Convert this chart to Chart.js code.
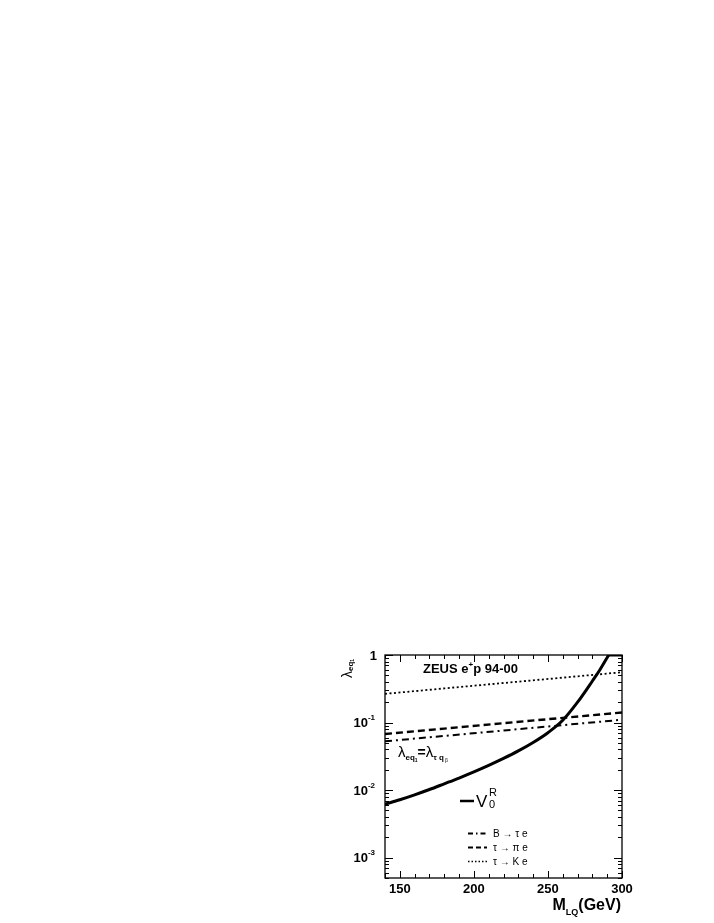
<!DOCTYPE html>
<html><head><meta charset="utf-8">
<script src="https://cdn.jsdelivr.net/npm/chart.js@4/dist/chart.umd.min.js"></script>
<style>html,body{margin:0;padding:0;background:#fff}canvas{display:block}</style>
</head><body><canvas id="c" width="714" height="923"></canvas>
<script>
// ---- data ----
const massV0R   = [140,150,160,170,180,190,200,210,220,230,240,250,260,270,280,285,291];
const lambdaV0R = [0.00617,0.00720,0.00852,0.0102,0.0124,0.0151,0.0186,0.0232,0.0294,0.0380,0.0507,0.0708,0.108,0.200,0.412,0.60,1.0];
// part of the V0R limit that runs along the upper frame (clipped at lambda = 1)
const massV0RClipped   = [291,300];
const lambdaV0RClipped = [1.0,1.0];
const massLimits   = [140,180,220,260,300];
const lambdaBtauE  = [0.0527,0.0634,0.0762,0.0916,0.110];
const lambdaTauPiE = [0.0676,0.0813,0.0977,0.1174,0.141];
const lambdaTauKE  = [0.266,0.320,0.385,0.462,0.556];
const xTickValues = [150,200,250,300];
const yDecades = [-3,-2,-1,0];
const legendLabels = ['B \u2192 \u03c4 e','\u03c4 \u2192 \u03c0 e','\u03c4 \u2192 K e'];

const pts = (xs, ys) => xs.map((x,i)=>({x, y: ys[i]}));
const SANS = '"Liberation Sans", Arial, Helvetica, sans-serif';

function rich(ctx, parts, x, y, align){
  let w = 0;
  parts.forEach(p=>{ ctx.font = p.f; p.w = ctx.measureText(p.t).width; w += p.w + (p.gap||0); });
  let cx = align==='right' ? x - w : (align==='center' ? x - w/2 : x);
  parts.forEach(p=>{ ctx.font = p.f; ctx.fillText(p.t, cx, y + (p.dy||0)); cx += p.w + (p.gap||0); });
  return w;
}

const decor = {
  id:'decor',
  afterDraw(chart){
    const ctx = chart.ctx, a = chart.chartArea, xs = chart.scales.x, ys = chart.scales.y;
    ctx.save();
    ctx.fillStyle = '#000'; ctx.strokeStyle = '#000';
    ctx.textBaseline = 'alphabetic'; ctx.textAlign = 'left';
    // frame
    ctx.lineWidth = 1.3;
    ctx.strokeRect(a.left, a.top, a.right-a.left, a.bottom-a.top);
    // y ticks
    ctx.lineWidth = 1;
    ctx.beginPath();
    for (let d=-4; d<=0; d++){
      for (let m=1; m<=9; m++){
        const v = m*Math.pow(10,d);
        if (v < ys.min*0.999 || v > ys.max*1.001) continue;
        const py = Math.round(ys.getPixelForValue(v))+0.5;
        const len = m===1 ? 8 : 4;
        ctx.moveTo(a.left, py); ctx.lineTo(a.left+len, py);
        ctx.moveTo(a.right, py); ctx.lineTo(a.right-len, py);
      }
    }
    // x ticks
    for (let v=140; v<=300; v+=10){
      const px = Math.round(xs.getPixelForValue(v))+0.5;
      const len = v%50===0 ? 7 : 4;
      ctx.moveTo(px, a.bottom); ctx.lineTo(px, a.bottom-len);
      ctx.moveTo(px, a.top); ctx.lineTo(px, a.top+len);
    }
    ctx.stroke();
    // y tick labels
    yDecades.forEach(d=>{
      const py = ys.getPixelForValue(Math.pow(10,d)) + 4.5;
      if (d===0) rich(ctx,[{t:'1',f:'bold 13px '+SANS}], a.left-8, py, 'right');
      else rich(ctx,[{t:'10',f:'bold 13px '+SANS},{t:String(d),f:'bold 8px '+SANS,dy:-7}], a.left-10, py, 'right');
    });
    // x axis title
    rich(ctx,[{t:'M',f:'bold 16px '+SANS},{t:'LQ',f:'bold 9px '+SANS,dy:5},{t:'(GeV)',f:'bold 16px '+SANS}], a.right-1, 910, 'right');
    // y axis title (rotated)
    ctx.save();
    ctx.translate(351.5, 678); ctx.rotate(-Math.PI/2);
    rich(ctx,[{t:'\u03bb',f:'14px '+SANS},{t:'eq',f:'bold 8px '+SANS,dy:1},{t:'1',f:'bold 5px '+SANS,dy:2}], 0, 0, 'left');
    ctx.restore();
    // ZEUS label
    rich(ctx,[{t:'ZEUS e',f:'bold 13px '+SANS},{t:'+',f:'bold 8px '+SANS,dy:-6},{t:'p 94-00',f:'bold 13px '+SANS}], 423, 673, 'left');
    // coupling label
    rich(ctx,[{t:'\u03bb',f:'15px '+SANS},{t:'eq',f:'bold 8px '+SANS,dy:3},{t:'1',f:'bold 5px '+SANS,dy:5},
              {t:'=',f:'bold 14px '+SANS},{t:'\u03bb',f:'15px '+SANS},{t:'\u03c4 q',f:'bold 8px '+SANS,dy:3,gap:1},{t:'\u03b2',f:'5px '+SANS,dy:5}], 398, 757, 'left');
    // V0R label
    ctx.lineWidth = 2.5;
    ctx.beginPath(); ctx.moveTo(460, 801); ctx.lineTo(474, 801); ctx.stroke();
    ctx.font = '17px '+SANS; ctx.fillText('V', 476, 807);
    ctx.font = '11px '+SANS; ctx.fillText('R', 489, 796); ctx.fillText('0', 489, 808);
    // legend
    const dashes = [[5,3,1.5,3],[5,3],[1.5,2]];
    const widths = [1.8,2.2,1.6];
    const rows = [833.5, 847.5, 861.5];
    rows.forEach((yy,i)=>{
      ctx.setLineDash(dashes[i]); ctx.lineWidth = widths[i];
      ctx.beginPath(); ctx.moveTo(468, yy); ctx.lineTo(487, yy); ctx.stroke();
      ctx.setLineDash([]);
      ctx.font = '10px '+SANS; ctx.fillText(legendLabels[i], 493, yy+3.5);
    });
    ctx.restore();
  }
};

new Chart(document.getElementById('c'), {
  type:'line',
  data:{ datasets:[
    {label:'V0R', data: pts(massV0R, lambdaV0R), borderColor:'#000', borderWidth:3, pointRadius:0, cubicInterpolationMode:'monotone', fill:false},
    {label:'V0R (clipped)', data: pts(massV0RClipped, lambdaV0RClipped), borderColor:'#000', borderWidth:3, pointRadius:0, fill:false},
    {label:legendLabels[0], data: pts(massLimits, lambdaBtauE), borderColor:'#000', borderWidth:2, borderDash:[7,4,2,4], pointRadius:0, fill:false},
    {label:legendLabels[1], data: pts(massLimits, lambdaTauPiE), borderColor:'#000', borderWidth:2.4, borderDash:[7,4], pointRadius:0, fill:false},
    {label:legendLabels[2], data: pts(massLimits, lambdaTauKE), borderColor:'#000', borderWidth:1.8, borderDash:[2,2.5], pointRadius:0, fill:false}
  ]},
  options:{
    responsive:false, animation:false,
    layout:{ padding:{ left:340, right:92, top:655, bottom:0 } },
    plugins:{ legend:{display:false}, tooltip:{enabled:false} },
    scales:{
      x:{ type:'linear', min:140, max:300,
          afterBuildTicks: s => { s.ticks = xTickValues.map(v=>({value:v})); },
          afterFit: s => { s.height = 45; },
          grid:{display:false, drawTicks:false}, border:{display:false},
          ticks:{ color:'#000', font:{family:SANS, weight:'bold', size:13}, padding:4, maxRotation:0, autoSkip:false } },
      y:{ type:'logarithmic', min:5e-4, max:1,
          afterFit: s => { s.width = 45; },
          grid:{display:false, drawTicks:false}, border:{display:false},
          ticks:{ display:false } }
    }
  },
  plugins:[decor]
});
</script></body></html>
